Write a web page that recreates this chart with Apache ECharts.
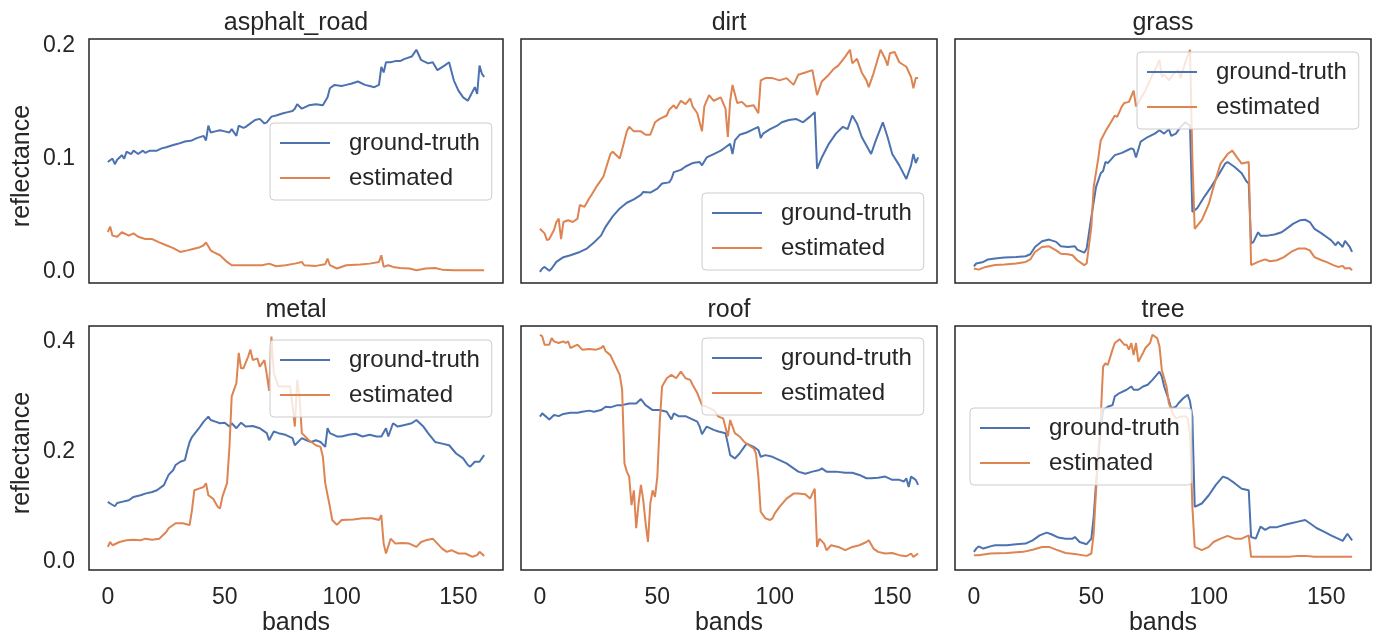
<!DOCTYPE html>
<html>
<head>
<meta charset="utf-8">
<script src="https://cdn.jsdelivr.net/npm/echarts@6/dist/echarts.min.js"></script>
<style>html,body{margin:0;padding:0;background:#fff;}#c{width:1377px;height:637px;}</style>
</head>
<body>
<div id="c"></div>
<script>
const panelNames = ['asphalt_road', 'dirt', 'grass', 'metal', 'roof', 'tree'];
const seriesNames = ['ground-truth', 'estimated'];
const bandTicks = [0, 50, 100, 150];
const topRowTicks = [0, 0.1, 0.2];
const bottomRowTicks = [0, 0.2, 0.4];

const asphaltTruth = [[0,0.097],[2,0.100],[3,0.095],[4,0.099],[6,0.103],[7,0.100],[8,0.106],[10,0.104],[11,0.107],[13,0.104],[15,0.107],[16,0.105],[18,0.107],[21,0.107],[23,0.109],[25,0.110],[28,0.112],[30,0.113],[33,0.115],[36,0.116],[38,0.118],[41,0.120],[42,0.116],[43,0.129],[44,0.123],[46,0.124],[48,0.125],[50,0.124],[52,0.123],[53,0.126],[55,0.120],[56,0.129],[58,0.127],[59,0.128],[61,0.131],[63,0.134],[65,0.135],[67,0.131],[68,0.132],[70,0.137],[72,0.138],[75,0.140],[77,0.141],[79,0.142],[80,0.144],[81,0.148],[83,0.144],[86,0.147],[89,0.148],[92,0.147],[94,0.154],[95,0.162],[97,0.165],[100,0.164],[102,0.165],[104,0.166],[107,0.168],[110,0.165],[112,0.164],[114,0.163],[116,0.165],[117,0.181],[118,0.176],[119,0.185],[121,0.185],[123,0.186],[125,0.186],[127,0.188],[130,0.190],[132,0.196],[134,0.187],[135,0.186],[137,0.184],[139,0.185],[141,0.178],[144,0.182],[146,0.185],[148,0.169],[150,0.160],[152,0.154],[154,0.151],[156,0.159],[157,0.163],[158,0.157],[159,0.182],[160,0.175],[161,0.172]];
const asphaltEstimated = [[0,0.035],[1,0.040],[2,0.032],[4,0.031],[6,0.035],[9,0.032],[11,0.034],[13,0.031],[16,0.029],[19,0.029],[22,0.026],[25,0.0235],[28,0.021],[31,0.0176],[34,0.019],[36,0.020],[39,0.0215],[41,0.0235],[42,0.026],[44,0.019],[45,0.0176],[48,0.0147],[51,0.0088],[53,0.0059],[58,0.0059],[62,0.0059],[66,0.0059],[69,0.0073],[72,0.005],[76,0.0059],[80,0.0073],[83,0.0088],[84,0.0059],[89,0.0053],[93,0.0068],[94,0.0118],[95,0.0059],[98,0.003],[102,0.0059],[108,0.0065],[112,0.0073],[116,0.0088],[117,0.0147],[118,0.0044],[120,0.0059],[122,0.0044],[125,0.0035],[129,0.003],[132,0.0015],[136,0.003],[140,0.0035],[143,0.002],[148,0.0015],[153,0.0015],[161,0.0015]];

const dirtTruth = [[0,0.0],[1,0.003],[2,0.0044],[4,0.001],[5,0.003],[7,0.0088],[10,0.013],[13,0.0147],[17,0.0176],[20,0.0206],[23,0.026],[26,0.032],[28,0.040],[31,0.049],[34,0.056],[37,0.061],[40,0.064],[43,0.068],[44,0.0706],[47,0.070],[50,0.0735],[52,0.078],[55,0.079],[56,0.082],[57,0.088],[60,0.090],[62,0.093],[65,0.096],[68,0.097],[69,0.094],[71,0.101],[74,0.104],[77,0.107],[79,0.110],[81,0.113],[82,0.104],[83,0.116],[85,0.121],[88,0.123],[91,0.126],[93,0.128],[94,0.118],[95,0.122],[98,0.126],[101,0.129],[103,0.132],[106,0.134],[109,0.135],[112,0.132],[115,0.137],[117,0.141],[118,0.091],[120,0.101],[123,0.113],[126,0.122],[129,0.128],[131,0.126],[133,0.138],[135,0.131],[137,0.119],[141,0.104],[143,0.116],[146,0.132],[148,0.119],[150,0.104],[153,0.094],[156,0.082],[158,0.094],[159,0.104],[160,0.096],[161,0.101]];
const dirtEstimated = [[0,0.038],[2,0.034],[3,0.028],[4,0.029],[6,0.037],[7,0.044],[8,0.047],[9,0.029],[10,0.044],[12,0.0456],[14,0.044],[16,0.047],[17,0.059],[19,0.0574],[21,0.065],[22,0.068],[24,0.075],[26,0.081],[27,0.084],[30,0.104],[31,0.106],[34,0.100],[36,0.116],[37,0.124],[38,0.128],[40,0.124],[43,0.124],[45,0.121],[47,0.121],[49,0.132],[51,0.135],[54,0.138],[55,0.143],[57,0.147],[58,0.144],[60,0.151],[62,0.148],[64,0.153],[65,0.146],[67,0.140],[69,0.124],[70,0.146],[72,0.156],[74,0.151],[77,0.154],[79,0.144],[80,0.119],[81,0.151],[82,0.165],[84,0.149],[86,0.150],[88,0.146],[91,0.147],[93,0.140],[94,0.169],[96,0.171],[99,0.171],[102,0.169],[105,0.171],[108,0.165],[110,0.174],[113,0.176],[116,0.178],[118,0.156],[120,0.168],[123,0.174],[125,0.179],[127,0.182],[130,0.190],[132,0.196],[133,0.184],[135,0.188],[137,0.176],[139,0.169],[140,0.163],[142,0.175],[145,0.196],[147,0.188],[148,0.182],[149,0.193],[151,0.194],[153,0.185],[156,0.181],[158,0.172],[159,0.162],[160,0.171],[161,0.171]];

const grassTruth = [[0,0.005],[1,0.0074],[4,0.0088],[6,0.011],[9,0.0118],[13,0.0126],[18,0.0132],[22,0.0138],[24,0.0156],[26,0.022],[29,0.027],[32,0.0285],[35,0.0265],[37,0.0226],[40,0.022],[43,0.0226],[44,0.0197],[47,0.017],[48,0.0206],[50,0.0485],[52,0.075],[54,0.087],[55,0.089],[56,0.097],[57,0.096],[60,0.103],[63,0.105],[66,0.108],[67,0.109],[68,0.108],[69,0.101],[71,0.115],[74,0.119],[77,0.122],[79,0.125],[81,0.122],[83,0.126],[84,0.120],[86,0.122],[88,0.128],[90,0.132],[92,0.129],[93,0.053],[95,0.056],[98,0.066],[101,0.075],[104,0.085],[107,0.0956],[108,0.097],[111,0.0926],[114,0.087],[116,0.080],[117,0.078],[118,0.025],[119,0.0265],[121,0.035],[122,0.032],[125,0.032],[128,0.033],[131,0.035],[133,0.038],[136,0.0426],[139,0.0456],[141,0.046],[143,0.044],[145,0.038],[148,0.034],[150,0.031],[152,0.028],[154,0.0235],[155,0.0265],[157,0.022],[158,0.0274],[160,0.022],[161,0.0176]];
const grassEstimated = [[0,0.003],[2,0.002],[5,0.0044],[9,0.006],[13,0.0065],[18,0.0074],[22,0.0088],[24,0.011],[26,0.0176],[29,0.022],[32,0.0226],[35,0.019],[37,0.016],[40,0.0156],[42,0.0147],[44,0.0103],[47,0.006],[48,0.0074],[50,0.040],[51,0.075],[53,0.101],[54,0.116],[56,0.124],[58,0.131],[60,0.138],[61,0.1368],[63,0.146],[64,0.149],[66,0.150],[68,0.160],[69,0.146],[71,0.153],[73,0.160],[76,0.174],[78,0.182],[79,0.187],[80,0.172],[81,0.174],[83,0.169],[85,0.175],[87,0.178],[88,0.171],[90,0.185],[92,0.196],[93,0.100],[94,0.038],[97,0.0456],[100,0.060],[102,0.075],[105,0.0956],[108,0.104],[110,0.107],[112,0.101],[114,0.0956],[117,0.097],[118,0.006],[121,0.0088],[124,0.011],[126,0.0094],[129,0.0103],[132,0.013],[135,0.0176],[138,0.0206],[141,0.0206],[143,0.019],[145,0.013],[148,0.0103],[150,0.0088],[153,0.006],[155,0.0044],[157,0.0053],[158,0.003],[160,0.0035],[161,0.0015]];

const metalTruth = [[0,0.108],[1,0.105],[3,0.100],[4,0.106],[6,0.108],[9,0.111],[11,0.117],[14,0.120],[16,0.123],[19,0.126],[21,0.129],[24,0.1385],[25,0.148],[26,0.157],[28,0.166],[29,0.175],[31,0.181],[33,0.184],[34,0.202],[35,0.217],[36,0.226],[39,0.242],[41,0.254],[43,0.263],[44,0.257],[46,0.254],[48,0.251],[50,0.252],[52,0.245],[53,0.251],[55,0.242],[57,0.252],[59,0.245],[62,0.246],[65,0.242],[66,0.239],[68,0.233],[69,0.220],[71,0.236],[73,0.233],[76,0.230],[79,0.224],[80,0.211],[83,0.224],[85,0.220],[87,0.217],[89,0.220],[91,0.217],[93,0.208],[94,0.242],[95,0.233],[98,0.227],[100,0.227],[103,0.230],[106,0.232],[109,0.227],[112,0.230],[115,0.227],[117,0.227],[119,0.242],[120,0.227],[122,0.251],[124,0.245],[127,0.248],[130,0.251],[132,0.257],[135,0.245],[137,0.233],[140,0.217],[143,0.214],[146,0.211],[149,0.196],[152,0.187],[154,0.175],[155,0.172],[157,0.181],[159,0.181],[160,0.187],[161,0.193]];
const metalEstimated = [[0,0.026],[1,0.035],[2,0.029],[5,0.035],[8,0.038],[11,0.039],[14,0.038],[16,0.041],[19,0.039],[22,0.041],[25,0.053],[26,0.060],[29,0.069],[32,0.069],[35,0.066],[36,0.093],[37,0.129],[39,0.132],[41,0.135],[42,0.142],[43,0.120],[45,0.114],[47,0.099],[48,0.096],[49,0.117],[51,0.142],[52,0.205],[53,0.300],[55,0.324],[56,0.379],[57,0.351],[58,0.351],[60,0.372],[61,0.385],[62,0.366],[64,0.369],[65,0.354],[67,0.366],[68,0.340],[69,0.310],[70,0.409],[71,0.342],[73,0.318],[76,0.318],[78,0.318],[79,0.284],[80,0.245],[81,0.330],[82,0.300],[83,0.233],[86,0.220],[89,0.211],[91,0.208],[92,0.190],[93,0.142],[95,0.099],[96,0.075],[98,0.066],[100,0.075],[105,0.076],[109,0.078],[113,0.078],[116,0.075],[117,0.084],[118,0.032],[119,0.014],[121,0.041],[123,0.032],[126,0.033],[129,0.032],[132,0.026],[134,0.035],[136,0.038],[139,0.041],[141,0.032],[143,0.023],[145,0.017],[147,0.020],[150,0.014],[153,0.014],[156,0.008],[158,0.011],[159,0.017],[161,0.0097]];

const roofTruth = [[0,0.263],[1,0.269],[4,0.258],[6,0.266],[8,0.264],[10,0.268],[13,0.270],[16,0.270],[18,0.272],[21,0.274],[23,0.272],[26,0.275],[28,0.281],[30,0.280],[33,0.284],[35,0.284],[38,0.287],[41,0.287],[43,0.295],[45,0.284],[48,0.275],[51,0.275],[54,0.272],[56,0.258],[57,0.269],[59,0.264],[62,0.264],[64,0.260],[67,0.254],[68,0.245],[69,0.231],[71,0.245],[74,0.239],[76,0.236],[79,0.233],[80,0.214],[81,0.193],[83,0.187],[85,0.196],[87,0.208],[88,0.214],[91,0.208],[93,0.202],[94,0.190],[96,0.193],[99,0.190],[102,0.184],[105,0.178],[108,0.169],[110,0.163],[113,0.159],[116,0.163],[119,0.166],[120,0.169],[122,0.163],[126,0.163],[130,0.161],[133,0.161],[136,0.157],[139,0.151],[141,0.151],[144,0.152],[147,0.154],[150,0.148],[153,0.148],[155,0.145],[156,0.151],[157,0.135],[158,0.154],[160,0.148],[161,0.139]];
const roofEstimated = [[0,0.412],[1,0.409],[2,0.394],[4,0.394],[5,0.406],[6,0.400],[8,0.397],[10,0.400],[11,0.397],[12,0.400],[13,0.388],[16,0.394],[18,0.385],[21,0.386],[24,0.385],[26,0.388],[27,0.392],[28,0.382],[30,0.375],[32,0.357],[34,0.339],[35,0.312],[36,0.178],[37,0.163],[38,0.154],[39,0.102],[40,0.129],[41,0.060],[42,0.105],[43,0.139],[44,0.111],[45,0.069],[46,0.035],[47,0.105],[48,0.129],[49,0.117],[50,0.154],[51,0.251],[52,0.318],[54,0.333],[56,0.339],[58,0.333],[60,0.345],[62,0.333],[64,0.330],[65,0.321],[67,0.306],[69,0.284],[71,0.281],[74,0.275],[76,0.263],[78,0.260],[80,0.227],[81,0.257],[83,0.233],[85,0.227],[87,0.217],[89,0.211],[91,0.205],[92,0.196],[93,0.154],[94,0.090],[96,0.078],[98,0.075],[99,0.078],[100,0.087],[102,0.099],[105,0.114],[108,0.123],[110,0.123],[113,0.122],[115,0.114],[117,0.132],[118,0.026],[119,0.041],[121,0.032],[122,0.020],[124,0.029],[127,0.026],[130,0.020],[133,0.026],[136,0.029],[139,0.035],[140,0.038],[142,0.023],[144,0.017],[147,0.014],[150,0.015],[153,0.011],[156,0.009],[158,0.014],[159,0.008],[161,0.014]];

const treeTruth = [[0,0.017],[1,0.023],[2,0.027],[4,0.023],[7,0.027],[9,0.029],[14,0.029],[18,0.031],[22,0.032],[25,0.038],[28,0.047],[31,0.052],[33,0.049],[36,0.043],[39,0.041],[42,0.041],[43,0.044],[45,0.035],[48,0.031],[50,0.041],[51,0.081],[52,0.142],[54,0.239],[55,0.275],[57,0.281],[59,0.284],[60,0.300],[62,0.306],[65,0.312],[67,0.318],[68,0.312],[70,0.312],[72,0.318],[74,0.321],[76,0.330],[79,0.345],[80,0.336],[81,0.318],[83,0.293],[84,0.278],[86,0.281],[87,0.287],[89,0.296],[91,0.303],[92,0.291],[93,0.263],[94,0.099],[97,0.105],[100,0.120],[103,0.139],[106,0.154],[108,0.151],[111,0.142],[114,0.132],[117,0.129],[118,0.044],[120,0.041],[122,0.063],[124,0.057],[126,0.062],[129,0.062],[132,0.066],[135,0.069],[138,0.072],[141,0.075],[143,0.069],[146,0.060],[149,0.054],[152,0.047],[155,0.041],[157,0.037],[159,0.050],[161,0.038]];
const treeEstimated = [[0,0.011],[2,0.011],[7,0.014],[14,0.015],[21,0.017],[25,0.021],[29,0.026],[32,0.026],[35,0.021],[39,0.015],[43,0.013],[48,0.0097],[50,0.014],[51,0.050],[52,0.129],[54,0.263],[55,0.354],[56,0.360],[57,0.357],[59,0.385],[60,0.397],[62,0.404],[64,0.394],[65,0.394],[66,0.385],[67,0.397],[68,0.375],[69,0.397],[70,0.363],[72,0.379],[73,0.388],[75,0.397],[76,0.412],[78,0.406],[79,0.391],[80,0.348],[82,0.318],[83,0.287],[85,0.266],[86,0.260],[88,0.263],[90,0.264],[91,0.260],[92,0.233],[93,0.099],[94,0.026],[97,0.020],[100,0.026],[102,0.035],[105,0.041],[108,0.046],[111,0.041],[114,0.041],[117,0.047],[118,0.008],[121,0.008],[126,0.008],[134,0.008],[138,0.0097],[141,0.0097],[145,0.008],[152,0.008],[161,0.008]];

const panelTruth = [asphaltTruth, dirtTruth, grassTruth, metalTruth, roofTruth, treeTruth];
const panelEstimated = [asphaltEstimated, dirtEstimated, grassEstimated, metalEstimated, roofEstimated, treeEstimated];

// ---- layout (pixels) ----
const colLeft = [89, 521, 955];
const colWidth = [414, 416, 416];
const rowTop = [39, 326];
const rowHeight = 244;
const legendPos = [[270,123],[702,193],[1137,52],[270,340],[702,338],[970,408]];
const FONT = '"Liberation Sans", Arial, Helvetica, sans-serif';
const TXT = '#262626';
const BLUE = '#4C72B0', ORANGE = '#DD8452';

const grid = [], xAxis = [], yAxis = [], series = [], title = [], legend = [];
for (let i = 0; i < 6; i++) {
  const r = Math.floor(i / 3), c = i % 3;
  grid.push({left: colLeft[c], top: rowTop[r], width: colWidth[c], height: rowHeight,
    show: true, borderColor: '#262626', borderWidth: 1.5, backgroundColor: '#fff', containLabel: false});
  xAxis.push({type: 'value', gridIndex: i, min: -8.05, max: 169.05,
    splitLine: {show: false}, axisLine: {show: false}, axisTick: {show: false},
    axisLabel: {show: r === 1, customValues: bandTicks, margin: 16, fontSize: 23, color: TXT, fontFamily: FONT},
    name: r === 1 ? 'bands' : '', nameLocation: 'middle', nameGap: 41,
    nameTextStyle: {fontSize: 25, color: TXT, fontFamily: FONT}});
  yAxis.push({type: 'value', gridIndex: i,
    min: r === 0 ? -0.0098 : -0.016, max: r === 0 ? 0.2055 : 0.428,
    splitLine: {show: false}, axisLine: {show: false}, axisTick: {show: false},
    axisLabel: {show: c === 0, customValues: r === 0 ? topRowTicks : bottomRowTicks, margin: 14,
      fontSize: 23, color: TXT, fontFamily: FONT, formatter: v => v.toFixed(1)},
    name: c === 0 ? 'reflectance' : '', nameLocation: 'middle', nameGap: 54, nameRotate: 90,
    nameTextStyle: {fontSize: 25, color: TXT, fontFamily: FONT, padding: [0, 10, 0, 0]}});
  title.push({text: panelNames[i], left: colLeft[c] + colWidth[c] / 2, textAlign: 'center',
    top: rowTop[r] - 28, padding: 0,
    textStyle: {fontSize: 25, fontWeight: 'normal', color: TXT, fontFamily: FONT}});
  series.push({name: seriesNames[0], type: 'line', xAxisIndex: i, yAxisIndex: i, data: panelTruth[i],
    showSymbol: false, symbol: 'none', color: BLUE, lineStyle: {width: 2, color: BLUE}, animation: false, z: 2});
  series.push({name: seriesNames[1], type: 'line', xAxisIndex: i, yAxisIndex: i, data: panelEstimated[i],
    showSymbol: false, symbol: 'none', color: ORANGE, lineStyle: {width: 2, color: ORANGE}, animation: false, z: 3});
  legend.push({data: seriesNames, left: legendPos[i][0], top: legendPos[i][1], orient: 'vertical',
    icon: 'rect', itemWidth: 50, itemHeight: 2, itemGap: 11, padding: [8, 12, 10, 10],
    backgroundColor: 'rgba(255,255,255,0.8)', borderColor: '#cccccc', borderWidth: 1, borderRadius: 4,
    selectedMode: false, z: 10,
    textStyle: {fontSize: 24, lineHeight: 24, color: TXT, fontFamily: FONT, padding: [0, 0, 0, 14]}});
}

const chart = echarts.init(document.getElementById('c'), null, {renderer: 'canvas'});
chart.setOption({backgroundColor: '#fff', animation: false, title, grid, xAxis, yAxis, series, legend});
</script>
</body>
</html>
